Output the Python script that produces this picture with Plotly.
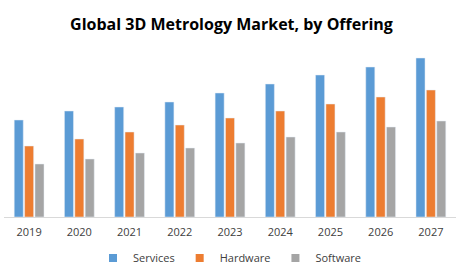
import plotly.graph_objects as go

years = ["2019", "2020", "2021", "2022", "2023", "2024", "2025", "2026", "2027"]
services = [97, 106, 110, 115, 124, 133, 142, 150, 159]
hardware = [71, 78, 85, 92, 99, 106, 113, 120, 127]
software = [53, 58, 64, 69, 74, 80, 85, 90, 96]

series = [("Services", services, "#5B9BD5"),
          ("Hardware", hardware, "#ED7D31"),
          ("Software", software, "#A5A5A5")]

fig = go.Figure()
for name, vals, col in series:
    fig.add_trace(go.Bar(x=years, y=vals, name=name, marker_color=col,
                         showlegend=False, legendgroup=name))
for name, vals, col in series:
    fig.add_trace(go.Scatter(x=[None], y=[None], mode="markers", name=name,
                             legendgroup=name,
                             marker=dict(symbol="square", size=8, color=col)))

fig.update_layout(
    width=463, height=270,
    margin=dict(l=4, r=7, t=40, b=53, autoexpand=False),
    paper_bgcolor="white", plot_bgcolor="white",
    barmode="group", bargap=0.38, bargroupgap=0.13,
    title=dict(text="<b>Global 3D Metrology Market, by Offering</b>",
               x=0.5, xanchor="center", y=0.91, yanchor="middle",
               font=dict(family="Open Sans", size=16, color="black")),
    xaxis=dict(showline=True, linecolor="#D9D9D9", linewidth=1, ticks="",
               ticklabelstandoff=5,
               tickfont=dict(family="Open Sans", size=11, color="#404040")),
    yaxis=dict(visible=False, range=[0, 177]),
    legend=dict(orientation="h", x=0.5, xanchor="center", y=-0.232, yanchor="middle",
                font=dict(family="Open Sans", size=11, color="#404040"),
                itemwidth=30, traceorder="normal", tracegroupgap=0),
    showlegend=True,
)
fig.write_html("out.html")
